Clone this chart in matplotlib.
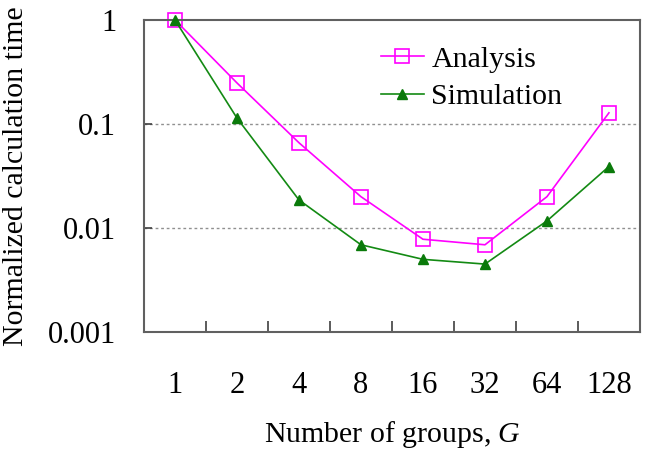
import matplotlib.pyplot as plt
import numpy as np

plt.rcParams['font.family'] = ['Liberation Serif', 'DejaVu Serif']
plt.rcParams['mathtext.fontset'] = 'custom'
plt.rcParams['mathtext.it'] = 'Liberation Serif:italic'
plt.rcParams['mathtext.rm'] = 'Liberation Serif'

# Data
groups = ['1', '2', '4', '8', '16', '32', '64', '128']
analysis = [1.0, 0.248, 0.066, 0.020, 0.0078, 0.0069, 0.020, 0.128]
simulation = [1.0, 0.114, 0.0186, 0.0069, 0.0050, 0.0045, 0.0117, 0.039]

fig = plt.figure(figsize=(6.53, 4.53), dpi=100)
ax = fig.add_axes([0.2205, 0.267, 0.7595, 0.689])

x = np.arange(len(groups))
ax.plot(x, analysis, color='#ff00ff', lw=1.2, marker='s', ms=10,
        mfc='none', mec='#ff00ff', mew=1.2, label='Analysis', clip_on=False)
ax.plot(x, simulation, color='#138a13', lw=1.2, marker='^', ms=7,
        mfc='#0a7a0a', mec='#0a7a0a', label='Simulation', clip_on=False, zorder=3)

ax.set_yscale('log')
ax.set_ylim(0.001, 1)
ax.set_xlim(-0.5, len(groups) - 0.5)
ax.set_yticks([0.001, 0.01, 0.1, 1])
ax.set_yticklabels(['0.001', '0.01', '0.1', '1'])
ax.yaxis.set_minor_locator(plt.NullLocator())
ax.tick_params(axis='y', which='major', direction='in', length=6, width=1.2,
               color='#404040', labelsize=22, pad=20)

ax.set_xticks(x)
ax.set_xticklabels(groups)
ax.set_xticks(x[:-1] + 0.5, minor=True)
ax.tick_params(axis='x', which='major', length=0, labelsize=22, pad=28)
ax.tick_params(axis='x', which='minor', direction='in', length=8, width=1.2,
               color='#404040')

for y in [0.01, 0.1]:
    ax.axhline(y, color='#909090', lw=1.0, ls=(0, (2, 2)), zorder=0)

for s in ax.spines.values():
    s.set_color('#606060')
    s.set_linewidth(1.5)

ax.set_xlabel('Number of groups, $G$', fontsize=21.5, labelpad=14)
ax.set_ylabel('Normalized calculation time', fontsize=21.5, labelpad=14)

ax.legend(loc='upper left', bbox_to_anchor=(0.465, 0.936), frameon=False,
          fontsize=21.5, handlelength=1.45, handletextpad=0.25, labelspacing=0.35,
          borderpad=0.2, borderaxespad=0)

fig.savefig('out.png', dpi=100)
